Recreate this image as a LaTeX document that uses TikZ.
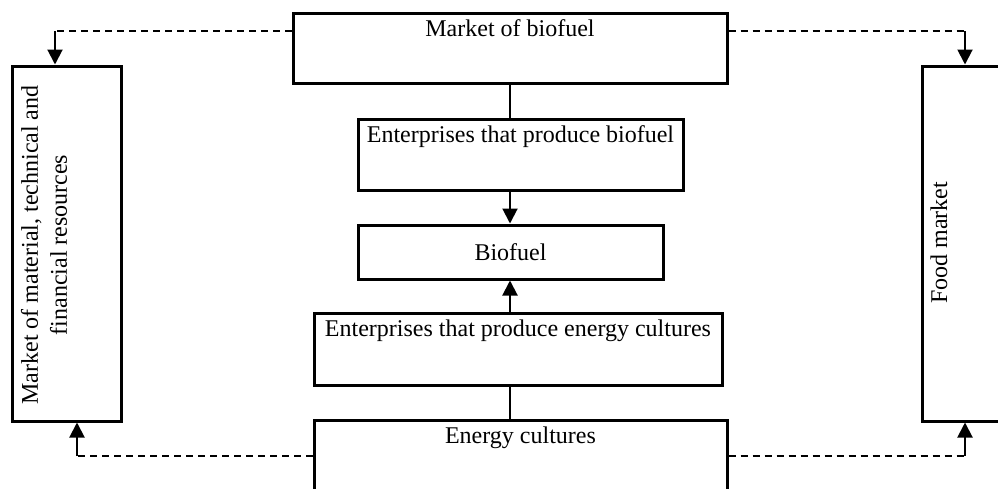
\documentclass[tikz,border=0pt]{standalone}
\usepackage{fontspec}
\setmainfont{Liberation Serif}
\usetikzlibrary{arrows.meta}
\begin{document}
\begin{tikzpicture}[x=1pt,y=-1pt,
  box/.style={draw, line width=3pt, rectangle, inner sep=0pt},
  toptext/.style={anchor=base, yshift=-25pt},
  conn/.style={line width=2pt},
  arr/.style={line width=2pt, -{Triangle[length=15pt,width=15pt]}},
  dashline/.style={line width=2pt, dash pattern=on 7pt off 5pt},
  every node/.style={font=\fontsize{24}{29}\selectfont}]
\useasboundingbox (0,0) rectangle (998,488);
\clip (0,0) rectangle (998,488);
% boxes
\node[box, minimum width=434pt, minimum height=70pt,
  label={[toptext]north:Market of biofuel}] (mob) at (510,48) {};
\node[box, minimum width=325pt, minimum height=71pt,
  label={[toptext]north:Enterprises that produce biofuel}] (entb) at (520.5,154.5) {};
\node[box, minimum width=305pt, minimum height=54pt] (bio) at (510.5,252) {Biofuel};
\node[box, minimum width=408pt, minimum height=72pt,
  label={[toptext]north:Enterprises that produce energy cultures}] (ente) at (518,349) {};
\node[box, minimum width=413pt, minimum height=120pt,
  label={[toptext]north:Energy cultures}] (ec) at (520.5,480) {};
\node[box, minimum width=109pt, minimum height=355pt] (left) at (66.5,243.5) {};
\node[box, minimum width=140pt, minimum height=355pt] (right) at (992,243.5) {};
% rotated texts
\node[rotate=90, align=center, inner sep=0pt] (lefttxt) at (44,245)
  {Market of material, technical and\\financial resources};
\node[rotate=90, inner sep=0pt] (righttxt) at (939,243) {Food market};
% coordinates
\coordinate (tl) at (55,31);
\coordinate (tr) at (965,31);
\coordinate (bl) at (77,456);
\coordinate (br) at (965,456);
\coordinate (cx) at (510,0);
% top connectors
\draw[dashline] (mob.west |- tl) -- (tl);
\draw[arr] (tl) -- (tl |- left.north);
\draw[dashline] (mob.east |- tr) -- (tr);
\draw[arr] (tr) -- (tr |- right.north);
% bottom connectors
\draw[dashline] (ec.west |- bl) -- (bl);
\draw[arr] (bl) -- (bl |- left.south);
\draw[dashline] (ec.east |- br) -- (br);
\draw[arr] (br) -- (br |- right.south);
% central chain
\draw[conn] (cx |- mob.south) -- (cx |- entb.north);
\draw[arr] (cx |- entb.south) -- (cx |- bio.north);
\draw[arr] (cx |- ente.north) -- (cx |- bio.south);
\draw[conn] (cx |- ec.north) -- (cx |- ente.south);
\end{tikzpicture}
\end{document}
